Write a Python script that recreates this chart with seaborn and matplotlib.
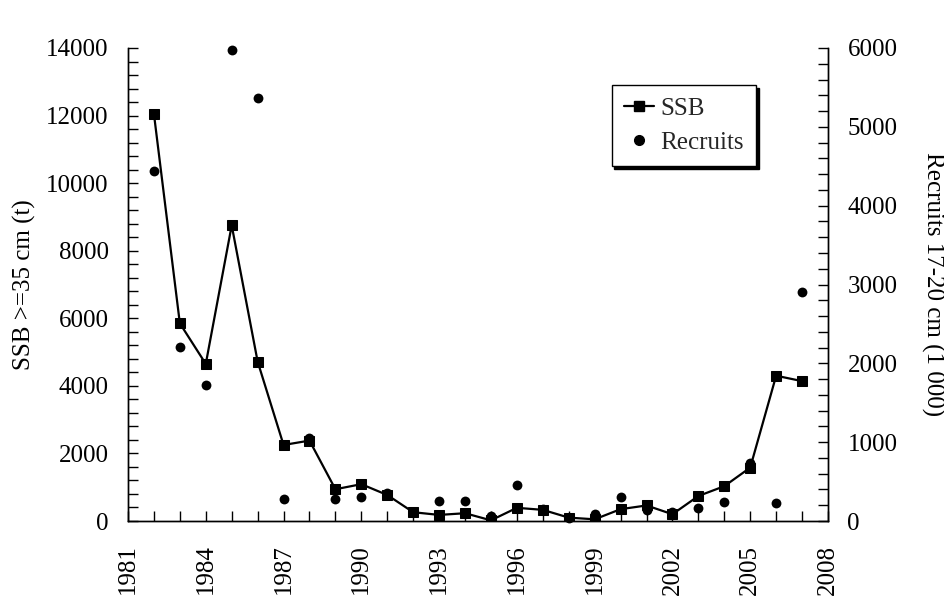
import matplotlib
matplotlib.use('Agg')
import matplotlib.pyplot as plt
import seaborn as sns
import pandas as pd
from matplotlib.ticker import MultipleLocator
from matplotlib.lines import Line2D

# Data
years = [1982, 1983, 1984, 1985, 1986, 1987, 1988, 1989, 1990, 1991, 1992, 1993, 1994,
         1995, 1996, 1997, 1998, 1999, 2000, 2001, 2002, 2003, 2004, 2005, 2006, 2007]
ssb = [12050, 5850, 4650, 8750, 4720, 2250, 2380, 940, 1090, 770, 260, 180, 230,
       20, 390, 330, 100, 50, 350, 460, 200, 740, 1030, 1580, 4300, 4140]
recruits = [4440, 2210, 1730, 5970, 5360, 280, 1050, 280, 300, 350, 110, 260, 250,
            60, 460, 150, 40, 85, 300, 140, 115, 170, 240, 740, 225, 2900]
xtick_years = [1981, 1984, 1987, 1990, 1993, 1996, 1999, 2002, 2005, 2008]

df = pd.DataFrame({'Year': years, 'SSB': ssb, 'Recruits': recruits})

sns.set_theme(style='white')
plt.rcParams['font.family'] = ['Liberation Serif', 'DejaVu Serif']
FS = 18

fig = plt.figure(figsize=(9.45, 5.98), dpi=100)
ax = fig.add_axes([128 / 945, 1 - 521 / 598, 700 / 945, 473 / 598])
ax2 = ax.twinx()

# SSB line with squares on the left axis
sns.lineplot(data=df, x='Year', y='SSB', ax=ax, color='black', marker='s',
             markersize=7, linewidth=1.6, markeredgecolor='black')
# Recruits as dots on the right axis
sns.scatterplot(data=df, x='Year', y='Recruits', ax=ax2, color='black', s=50,
                edgecolor='black', linewidth=0, zorder=3, clip_on=False)

ax.set_xlim(1981, 2008)
ax.set_ylim(0, 14000)
ax2.set_ylim(0, 6000)

ax.set_xticks(xtick_years)
ax.xaxis.set_minor_locator(MultipleLocator(1))
ax.set_xticklabels([str(y) for y in xtick_years], rotation=90, fontsize=FS)
ax.yaxis.set_major_locator(MultipleLocator(2000))
ax.yaxis.set_minor_locator(MultipleLocator(400))
ax2.yaxis.set_major_locator(MultipleLocator(1000))
ax2.yaxis.set_minor_locator(MultipleLocator(200))

for a in (ax, ax2):
    for s in a.spines.values():
        s.set_color('black')
        s.set_linewidth(1.0)
    a.spines['top'].set_visible(False)

ax.tick_params(axis='x', which='both', direction='in', length=7, width=1,
               colors='black', pad=17, bottom=True)
ax.tick_params(axis='y', which='both', direction='in', length=7, width=1,
               colors='black', pad=14, labelsize=FS, left=True)
ax2.tick_params(axis='y', which='both', direction='in', length=7, width=1,
                colors='black', pad=14, labelsize=FS, right=True)
for lab in ax.get_xticklabels() + ax.get_yticklabels() + ax2.get_yticklabels():
    lab.set_color('black')

ax.set_xlabel('')
ax.set_ylabel('SSB >=35 cm (t)', fontsize=FS, color='black')
ax2.set_ylabel('Recruits 17-20 cm (1 000)', fontsize=FS, color='black', rotation=-90)
ax.yaxis.set_label_coords(-0.148, 0.5)
ax2.yaxis.set_label_coords(1.149, 0.5)
ax.yaxis.label.set_va('center')
ax2.yaxis.label.set_va('center')

handles = [
    Line2D([], [], color='black', marker='s', markersize=7, linewidth=1.6),
    Line2D([], [], color='black', marker='o', markersize=7, linewidth=0),
]
leg = ax2.legend(handles, ['SSB', 'Recruits'], loc='upper left',
                 bbox_to_anchor=(0.691, 0.922), borderaxespad=0, fontsize=FS,
                 frameon=True, fancybox=False, framealpha=1, edgecolor='black',
                 shadow={'color': 'black', 'alpha': 1}, handlelength=1.2,
                 handletextpad=0.25, borderpad=0.5, labelspacing=0.45)
leg.get_frame().set_linewidth(1.0)

fig.savefig('out.png', dpi=100)
